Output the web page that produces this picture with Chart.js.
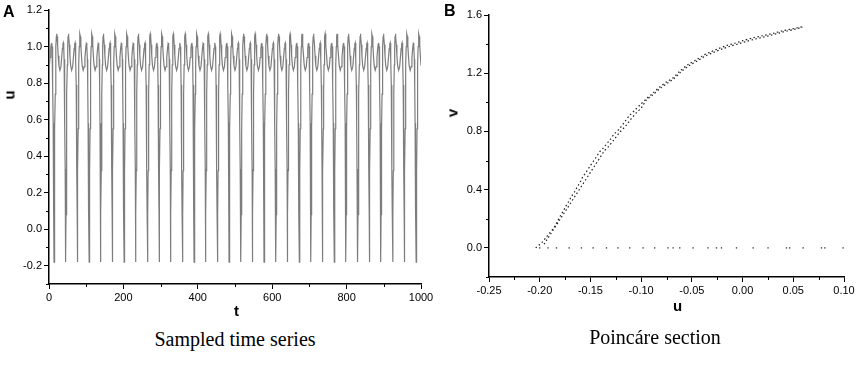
<!DOCTYPE html>
<html>
<head>
<meta charset="utf-8">
<script src="https://cdn.jsdelivr.net/npm/chart.js@4.4.1/dist/chart.umd.min.js"></script>
<style>
  html, body { margin: 0; padding: 0; background: #fff; width: 856px; height: 366px; overflow: hidden; }
  #wrap { position: relative; width: 856px; height: 366px; }
  canvas { position: absolute; top: 0; }
  .lbl { position: absolute; font-family: "Liberation Sans", Arial, sans-serif; font-weight: bold; color: #000; line-height: 1; }
  .cap { position: absolute; font-family: "Liberation Serif", "Times New Roman", serif; font-size: 20px; color: #000; transform: translateX(-50%); white-space: nowrap; }
  .rot { transform: translate(-50%, -50%) rotate(-90deg); }
</style>
</head>
<body>
<div id="wrap">
  <canvas id="series" width="440" height="320" style="left:0"></canvas>
  <canvas id="poincare" width="430" height="320" style="left:430px"></canvas>
  <div class="lbl" style="left:3px;top:4px;font-size:16px">A</div>
  <div class="lbl" style="left:444px;top:3px;font-size:16px">B</div>
  <div class="lbl rot" style="left:9px;top:95px;font-size:15px">u</div>
  <div class="lbl rot" style="left:452px;top:113px;font-size:15px">v</div>
  <div class="lbl" style="left:234px;top:303px;font-size:15px">t</div>
  <div class="lbl" style="left:673px;top:298px;font-size:15px">u</div>
  <div class="cap" style="left:235px;top:328px">Sampled time series</div>
  <div class="cap" style="left:655px;top:326px">Poincáre section</div>
</div>
<script>
// ---- panel A: sampled time series ----
// times of the deep minima (first one lies just before t = 0)
const minTimes = [-17.9, 13.5, 45, 76, 108, 139, 170, 202, 233, 265, 296, 327, 359, 390, 421,
  453, 484, 516, 547, 578, 610, 641, 673, 704, 735, 767, 798, 830, 861, 892, 924, 955, 987];
// shape of one cycle after a minimum (offset in t, value of u)
const cycleOffsets = [0, 0.7, 1.5, 2.4, 3.3, 4.3, 5.3, 6.3, 7.2, 8.3, 9.6, 11.2, 13.2, 15.9,
  18.6, 20.6, 22.6, 24.0, 25.1, 26.1, 27.1, 28.1, 29.1, 30.0, 30.7];
const cycleValues = [-0.18, 0.08, 0.32, 0.55, 0.74, 0.90, 1.00, 1.055, 1.07, 1.055, 1.01, 0.95, 0.895, 0.87,
  0.89, 0.94, 0.99, 1.013, 1.02, 1.0, 0.93, 0.79, 0.58, 0.33, 0.10];
const tTicks = [0, 200, 400, 600, 800, 1000];
const tMinor = [100, 300, 500, 700, 900];
const uTicks = [-0.2, 0.0, 0.2, 0.4, 0.6, 0.8, 1.0, 1.2];
const uMinor = [-0.3, -0.1, 0.1, 0.3, 0.5, 0.7, 0.9, 1.1];

// ---- panel B: Poincare section ----
const outerU = [-0.204, -0.2000, -0.1967, -0.1934, -0.1901, -0.1869, -0.1842, -0.1820, -0.1796, -0.1770,
  -0.1744, -0.1714, -0.1687, -0.1655, -0.1628, -0.1599, -0.1573, -0.1539, -0.1507, -0.1474, -0.1441,
  -0.1408, -0.1376, -0.1310, -0.1260, -0.1211, -0.1162, -0.1112, -0.1063, -0.1014, -0.0948, -0.0883,
  -0.0817, -0.0751, -0.0685, -0.0619, -0.0537, -0.0455, -0.0390, -0.0323, -0.0242, -0.0159, -0.0077,
  0.0005, 0.0104, 0.0202, 0.0301, 0.0399, 0.0498, 0.0597];
const outerV = [0.000, 0.023, 0.045, 0.075, 0.103, 0.130, 0.159, 0.189, 0.221, 0.250, 0.284, 0.319,
  0.353, 0.387, 0.421, 0.455, 0.490, 0.524, 0.558, 0.592, 0.626, 0.661, 0.684, 0.741, 0.786, 0.820,
  0.866, 0.911, 0.946, 0.980, 1.025, 1.064, 1.105, 1.139, 1.169, 1.214, 1.260, 1.292, 1.322, 1.344,
  1.368, 1.390, 1.406, 1.424, 1.443, 1.458, 1.474, 1.492, 1.506, 1.520];
const innerU = [-0.197, -0.1944, -0.1918, -0.1891, -0.1865, -0.1838, -0.1812, -0.1784, -0.1756, -0.1727,
  -0.1697, -0.1668, -0.1638, -0.1608, -0.1579, -0.1549, -0.1519, -0.1488, -0.1457, -0.1426, -0.1395,
  -0.1364, -0.1320, -0.1265, -0.1213, -0.1152, -0.1104, -0.1052, -0.0995, -0.095, -0.088, -0.081,
  -0.074, -0.067, -0.060, -0.052, -0.044, -0.036, -0.028, -0.020, -0.012, -0.004, 0.004, 0.012,
  0.020, 0.028, 0.036, 0.044, 0.052, 0.059];
const innerV = [0.010, 0.040, 0.068, 0.097, 0.125, 0.154, 0.183, 0.213, 0.243, 0.274, 0.306, 0.338,
  0.370, 0.402, 0.434, 0.466, 0.498, 0.532, 0.565, 0.598, 0.632, 0.665, 0.698, 0.745, 0.792, 0.838,
  0.882, 0.925, 0.965, 1.014, 1.054, 1.097, 1.132, 1.167, 1.214, 1.255, 1.287, 1.320, 1.345, 1.367,
  1.386, 1.402, 1.419, 1.434, 1.447, 1.461, 1.476, 1.490, 1.503, 1.516];
// isolated hits on v = 0
const zeroRowU = [-0.200, -0.1918, -0.1835, -0.171, -0.1589, -0.1474, -0.1342, -0.1228, -0.1112,
  -0.0981, -0.0866, -0.0735, -0.0685, -0.0619, -0.0488, -0.0340, -0.0257, -0.0208, -0.0060, 0.0104,
  0.0251, 0.0433, 0.0465, 0.0597, 0.0778, 0.0811, 0.0991];
const pxTicks = [-0.25, -0.20, -0.15, -0.10, -0.05, 0.00, 0.05, 0.10];
const pxMinor = [-0.225, -0.175, -0.125, -0.075, -0.025, 0.025, 0.075];
const pyTicks = [0.0, 0.4, 0.8, 1.2, 1.6];
const pyMinor = [-0.2, 0.2, 0.6, 1.0, 1.4];

Chart.defaults.font.family = '"Liberation Sans", Arial, sans-serif';
Chart.defaults.font.size = 11;
Chart.defaults.color = '#000';

// short minor ticks outside the axes
const minorTicks = {
  id: 'minorTicks',
  afterDraw(chart, args, opts) {
    const ctx = chart.ctx, a = chart.chartArea;
    const xs = chart.scales.x, ys = chart.scales.y;
    ctx.save();
    ctx.strokeStyle = '#000';
    ctx.lineWidth = 1;
    ctx.beginPath();
    (opts.x || []).forEach(v => {
      const p = Math.round(xs.getPixelForValue(v)) + 0.5;
      ctx.moveTo(p, a.bottom); ctx.lineTo(p, a.bottom + 3);
    });
    (opts.y || []).forEach(v => {
      const p = Math.round(ys.getPixelForValue(v)) + 0.5;
      ctx.moveTo(a.left - 3, p); ctx.lineTo(a.left, p);
    });
    ctx.stroke();
    ctx.restore();
  }
};

function axis(min, max, ticks, fmt, fit) {
  return {
    type: 'linear', min: min, max: max,
    afterBuildTicks: s => { s.ticks = ticks.map(v => ({ value: v })); },
    afterFit: fit,
    border: { display: true, color: '#000', width: 1.5 },
    grid: { display: true, drawOnChartArea: false, drawTicks: true, tickLength: 5, tickColor: '#000', tickWidth: 1 },
    ticks: { padding: 2, color: '#000', callback: fmt, maxRotation: 0, autoSkip: false }
  };
}

// build the sampled series from the minima and the cycle shape
const seriesPts = [];
minTimes.forEach(m => {
  cycleOffsets.forEach((off, i) => {
    const t = m + off;
    if (t >= -1 && t <= 1001) seriesPts.push({ x: t, y: cycleValues[i] });
  });
});

new Chart(document.getElementById('series'), {
  type: 'line',
  data: {
    datasets: [{
      data: seriesPts,
      borderColor: '#7d7d7d',
      borderWidth: 1.2,
      pointRadius: 0,
      tension: 0
    }]
  },
  options: {
    responsive: false,
    animation: false,
    events: [],
    layout: { padding: { left: 0, right: 19, top: 10, bottom: 0 } },
    plugins: { legend: { display: false }, tooltip: { enabled: false }, minorTicks: { x: tMinor, y: uMinor } },
    scales: {
      x: axis(0, 1000, tTicks, v => String(v), s => { s.height = 36; }),
      y: axis(-0.3, 1.2, uTicks, v => v.toFixed(1), s => { s.width = 49; })
    }
  },
  plugins: [minorTicks]
});

const zip = (us, vs) => us.map((u, i) => ({ x: u, y: vs[i] }));

new Chart(document.getElementById('poincare'), {
  type: 'scatter',
  data: {
    datasets: [
      {
        data: zip(outerU, outerV), showLine: true, borderColor: '#222', borderWidth: 1.2,
        borderDash: [1.5, 2.5], pointRadius: 0, tension: 0.3
      },
      {
        data: zip(innerU, innerV), showLine: true, borderColor: '#222', borderWidth: 1.2,
        borderDash: [1.5, 2.5], borderDashOffset: 1.5, pointRadius: 0, tension: 0.3
      },
      {
        data: zeroRowU.map(u => ({ x: u, y: 0 })), showLine: false, pointRadius: 0.8,
        backgroundColor: '#555', borderWidth: 0
      }
    ]
  },
  options: {
    responsive: false,
    animation: false,
    events: [],
    layout: { padding: { left: 0, right: 16, top: 15, bottom: 0 } },
    plugins: { legend: { display: false }, tooltip: { enabled: false }, minorTicks: { x: pxMinor, y: pyMinor } },
    scales: {
      x: axis(-0.25, 0.10, pxTicks, v => v.toFixed(2), s => { s.height = 43; }),
      y: axis(-0.2, 1.6, pyTicks, v => v.toFixed(1), s => { s.width = 59; })
    }
  },
  plugins: [minorTicks]
});
</script>
</body>
</html>
